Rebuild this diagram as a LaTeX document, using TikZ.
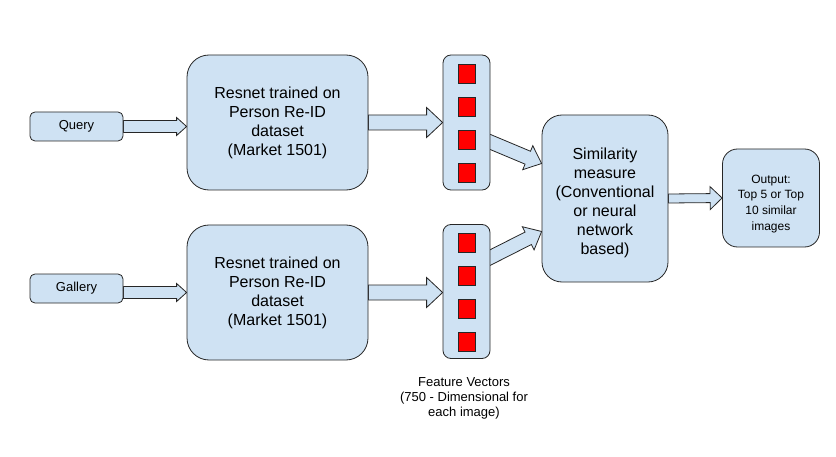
\documentclass[tikz,border=0pt]{standalone}
\usepackage{fontspec}
\setmainfont{Liberation Sans}
\usetikzlibrary{calc,backgrounds}

\definecolor{boxblue}{HTML}{CFE2F3}
\definecolor{boxline}{HTML}{262626}
\definecolor{vecred}{HTML}{FF0000}

% block arrow: start, tip, half shaft, half head, head length
\newcommand{\fatarrow}[5]{%
  \draw[fatarrow] let \p1=#1, \p2=#2, \n1={atan2(\y2-\y1,\x2-\x1)} in
    ($(\p1)+({\n1+90}:#3)$) -- ($(\p2)+({\n1+180}:#5)+({\n1+90}:#3)$)
    -- ($(\p2)+({\n1+180}:#5)+({\n1+90}:#4)$) -- (\p2)
    -- ($(\p2)+({\n1+180}:#5)+({\n1-90}:#4)$)
    -- ($(\p2)+({\n1+180}:#5)+({\n1-90}:#3)$)
    -- ($(\p1)+({\n1-90}:#3)$) -- cycle;}

\begin{document}
\begin{tikzpicture}[x=1pt, y=1pt,
  box/.style={draw=boxline, fill=boxblue, line width=0.8pt, rounded corners=#1, inner sep=0pt, align=center},
  box/.default=20pt,
  cell/.style={draw=boxline, fill=vecred, line width=0.6pt, minimum width=17pt, minimum height=19pt, inner sep=0pt},
  fatarrow/.style={draw=boxline, fill=boxblue, line width=0.8pt, line join=miter}]
\useasboundingbox (0,0) rectangle (836,456);

\node[box=5pt, minimum width=93pt, minimum height=29pt, font=\fontsize{13}{15}\selectfont] (query) at (76.5,329.5) {Query};
\node[box=5pt, minimum width=93pt, minimum height=29pt, font=\fontsize{13}{15}\selectfont] (gallery) at (76.5,167.5) {Gallery};

\node[box=22pt, minimum width=181pt, minimum height=135pt, font=\fontsize{16}{19}\selectfont] (resq) at (277.5,333.5) {Resnet trained on\\Person Re-ID\\dataset\\(Market 1501)};
\node[box=22pt, minimum width=181pt, minimum height=135pt, font=\fontsize{16}{19}\selectfont] (resg) at (277.5,163.5) {Resnet trained on\\Person Re-ID\\dataset\\(Market 1501)};

\node[box=8pt, minimum width=47pt, minimum height=135pt] (vecq) at (466.5,333.5) {};
\node[box=8pt, minimum width=47pt, minimum height=134pt] (vecg) at (466.5,164.5) {};
\foreach \i in {1,...,4} {
  \node[cell] (vq\i) at (466.5,415.5-33*\i) {};
  \node[cell] (vg\i) at (466.5,246-33*\i) {};
}

\node[box=20pt, minimum width=126pt, minimum height=167pt, font=\fontsize{16}{19}\selectfont] (sim) at (605,257.5) {\rule{0pt}{21pt}Similarity\\measure\\(Conventional\\or neural\\network\\based)};
\node[box=15pt, minimum width=97pt, minimum height=98pt, font=\fontsize{12}{15.7}\selectfont] (out) at (771,258) {\rule{0pt}{20pt}Output:\\Top 5 or Top\\10 similar\\images};

\node[align=center, font=\fontsize{13}{15}\selectfont] (featlabel) at (464,58) {Feature Vectors\\(750 - Dimensional for\\each image)};

\coordinate (vqout) at ($(vecq.east)+(-6,-17)$);
\coordinate (vgout) at ($(vecg.east)+(-6,31)$);
\coordinate (simq) at ($(sim.west)+(0,35)$);
\coordinate (simg) at ($(sim.west)+(0,-33)$);

\begin{scope}[on background layer]
\foreach \from/\to/\w/\h/\l in {query.east/query.east -| resq.west/6pt/9pt/10pt,
    resg.west -| gallery.east/resg.west/6pt/9pt/10pt,
    resq.east/resq.east -| vecq.west/7.5pt/15pt/16pt, resg.east/resg.east -| vecg.west/7.5pt/15pt/16pt,
    vqout/simq/7pt/13pt/15pt, vgout/simg/7pt/13pt/15pt,
    sim.east/out.west/4.5pt/11.5pt/12pt}
  {\fatarrow{(\from)}{(\to)}{\w}{\h}{\l}}
\end{scope}
\end{tikzpicture}
\end{document}
